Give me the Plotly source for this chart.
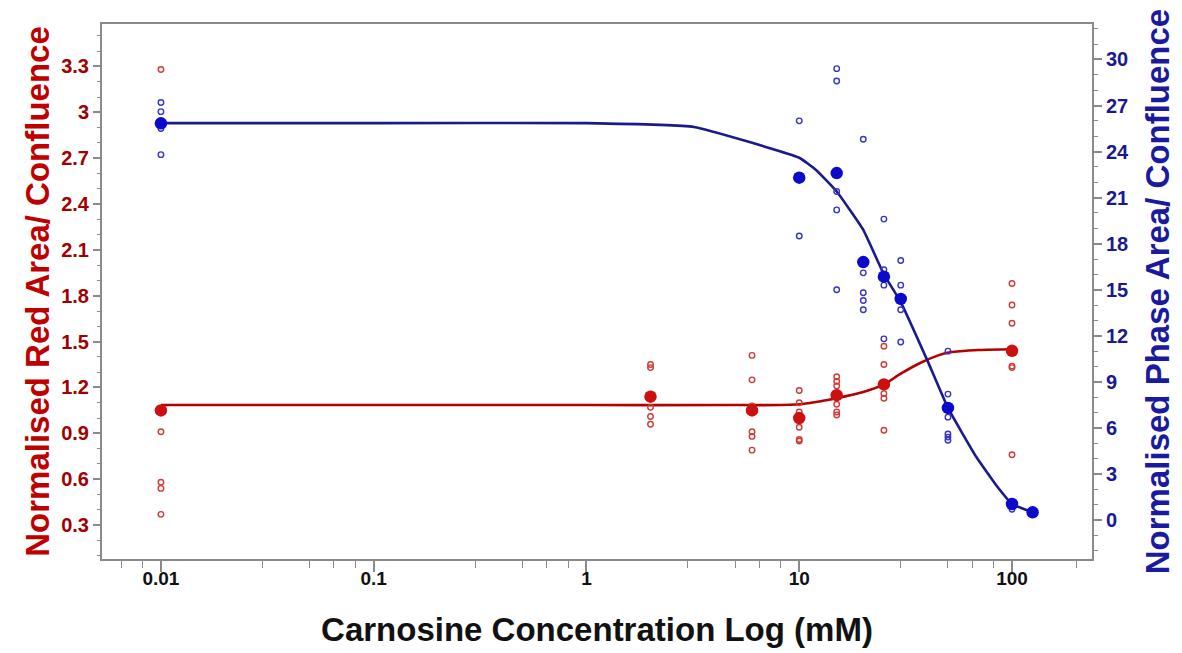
import plotly.graph_objects as go

# ---------------- data ----------------
# Red series (left axis): replicate values
red_rep_conc = [0.01]*5 + [2]*5 + [6]*6 + [10]*6 + [15]*6 + [25]*5 + [100]*6
red_rep_val = [3.28, 0.91, 0.58, 0.54, 0.37,
               1.35, 1.33, 1.07, 1.01, 0.96,
               1.41, 1.25, 1.08, 0.91, 0.88, 0.79,
               1.18, 1.10, 1.04, 0.94, 0.86, 0.85,
               1.27, 1.24, 1.21, 1.09, 1.04, 1.02,
               1.47, 1.35, 1.16, 1.13, 0.92,
               1.88, 1.74, 1.62, 1.34, 1.33, 0.76]
red_mean_conc = [0.01, 2, 6, 10, 15, 25, 100]
red_mean_val = [1.05, 1.14, 1.05, 1.00, 1.15, 1.22, 1.44]
red_fit_conc = [0.01, 0.1, 1, 5, 10, 15, 20, 25, 30, 37, 45, 51, 70, 100]
red_fit_val = [1.085, 1.085, 1.085, 1.085, 1.09, 1.13, 1.17, 1.22, 1.29, 1.36, 1.41, 1.43, 1.445, 1.45]

# Blue series (right axis): replicate values
blue_rep_conc = [0.01]*4 + [10]*2 + [15]*5 + [20]*5 + [25]*4 + [30]*4 + [50]*6 + [100]*2
blue_rep_val = [27.2, 26.6, 25.5, 23.8,
                26.0, 18.5,
                29.4, 28.6, 21.4, 20.2, 15.0,
                24.8, 16.1, 14.8, 14.3, 13.7,
                19.6, 16.3, 15.3, 11.8,
                16.9, 15.3, 13.7, 11.6,
                11.0, 8.2, 6.7, 5.6, 5.4, 5.2,
                1.2, 0.7]
blue_mean_conc = [0.01, 10, 15, 20, 25, 30, 50, 100, 125]
blue_mean_val = [25.84, 22.3, 22.6, 16.8, 15.85, 14.4, 7.3, 1.04, 0.5]
blue_fit_conc = [0.01, 0.1, 1, 3.2, 10, 12, 15, 20, 25, 30, 40, 50, 68, 85, 100, 125]
blue_fit_val = [25.85, 25.85, 25.85, 25.6, 23.6, 22.8, 21.4, 18.9, 16.0, 14.2, 10.4, 7.3, 4.1, 2.2, 1.05, 0.5]

# Axis ticks
x_tickvals = [0.01, 0.1, 1, 10, 100]
x_ticktext = ["0.01", "0.1", "1", "10", "100"]
x_minorvals = [0.0065, 0.0082,
               0.03, 0.05, 0.065, 0.082,
               0.3, 0.5, 0.65, 0.82,
               3, 5, 6.5, 8.2,
               30, 50, 65, 82,
               200]
y1_tickvals = [0.3, 0.6, 0.9, 1.2, 1.5, 1.8, 2.1, 2.4, 2.7, 3.0, 3.3]
y1_ticktext = ["0.3", "0.6", "0.9", "1.2", "1.5", "1.8", "2.1", "2.4", "2.7", "3", "3.3"]
y2_tickvals = [0, 3, 6, 9, 12, 15, 18, 21, 24, 27, 30]
y2_ticktext = ["0", "3", "6", "9", "12", "15", "18", "21", "24", "27", "30"]

# ---------------- styles ----------------
RED_LINE = "#b50000"
RED_MK = "#cc1010"
RED_OPEN = "#d23a3a"
BLUE_LINE = "#1a1a8a"
BLUE_MK = "#0a0acc"
BLUE_OPEN = "#3535c8"
FRAME = "#8a8a8a"
FONT = "Liberation Sans, Arial, sans-serif"

fig = go.Figure()

fig.add_trace(go.Scatter(x=red_fit_conc, y=red_fit_val, mode="lines",
                         line=dict(color=RED_LINE, width=2.6, shape="spline", smoothing=0.8),
                         yaxis="y", hoverinfo="skip"))
fig.add_trace(go.Scatter(x=red_rep_conc, y=red_rep_val, mode="markers",
                         marker=dict(symbol="circle-open", size=5.5, color=RED_OPEN,
                                     line=dict(width=1.4, color=RED_OPEN)),
                         yaxis="y"))
fig.add_trace(go.Scatter(x=red_mean_conc, y=red_mean_val, mode="markers",
                         marker=dict(symbol="circle", size=12.5, color=RED_MK),
                         yaxis="y"))

fig.add_trace(go.Scatter(x=blue_fit_conc, y=blue_fit_val, mode="lines",
                         line=dict(color=BLUE_LINE, width=2.6, shape="spline", smoothing=0.35),
                         yaxis="y2", hoverinfo="skip"))
fig.add_trace(go.Scatter(x=blue_rep_conc, y=blue_rep_val, mode="markers",
                         marker=dict(symbol="circle-open", size=5.5, color=BLUE_OPEN,
                                     line=dict(width=1.4, color=BLUE_OPEN)),
                         yaxis="y2"))
fig.add_trace(go.Scatter(x=blue_mean_conc, y=blue_mean_val, mode="markers",
                         marker=dict(symbol="circle", size=12.5, color=BLUE_MK),
                         yaxis="y2"))

fig.update_layout(
    width=1182, height=653,
    margin=dict(l=102, r=90, t=24, b=94),
    paper_bgcolor="white", plot_bgcolor="white",
    showlegend=False,
    font=dict(family=FONT),
    xaxis=dict(
        type="log", range=[-2.277, 2.376],
        tickmode="array", tickvals=x_tickvals, ticktext=x_ticktext,
        ticks="outside", ticklen=11, tickwidth=1.5, tickcolor=FRAME,
        ticklabelstandoff=-10,
        minor=dict(tickmode="array", tickvals=x_minorvals, ticks="outside",
                   ticklen=7, tickwidth=1.2, tickcolor=FRAME, showgrid=False),
        showline=True, linecolor=FRAME, linewidth=2, mirror=True,
        showgrid=False, zeroline=False,
        tickfont=dict(size=19, color="#111111", family=FONT, weight="bold"),
        title=dict(text="<b>Carnosine Concentration Log (mM)</b>",
                   font=dict(size=33, color="#111111", family=FONT), standoff=30),
    ),
    yaxis=dict(
        range=[0.078, 3.578],
        tickmode="array", tickvals=y1_tickvals, ticktext=y1_ticktext,
        ticks="outside", ticklen=7, tickwidth=1.5, tickcolor=FRAME,
        minor=dict(dtick=0.1, tick0=0, ticks="outside", ticklen=3,
                   tickwidth=1.2, tickcolor=FRAME, showgrid=False),
        showline=True, linecolor=FRAME, linewidth=2, mirror=True,
        showgrid=False, zeroline=False,
        tickfont=dict(size=20, color="#a00000", family=FONT, weight="bold"),
        title=dict(text="<b>Normalised Red Area/ Confluence</b>",
                   font=dict(size=33, color="#be0000", family=FONT), standoff=2),
    ),
    yaxis2=dict(
        overlaying="y", side="right",
        range=[-2.54, 32.31],
        tickmode="array", tickvals=y2_tickvals, ticktext=y2_ticktext,
        ticks="outside", ticklen=8, tickwidth=1.5, tickcolor=FRAME,
        minor=dict(dtick=1, tick0=0, ticks="outside", ticklen=4,
                   tickwidth=1.2, tickcolor=FRAME, showgrid=False),
        showline=True, linecolor=FRAME, linewidth=2,
        showgrid=False, zeroline=False,
        tickfont=dict(size=20, color="#1a1a90", family=FONT, weight="bold"),
        title=dict(text="<b>Normalised Phase Area/ Confluence</b>",
                   font=dict(size=33, color="#1a1aa0", family=FONT), standoff=18),
    ),
)

fig.write_html("out.html")
